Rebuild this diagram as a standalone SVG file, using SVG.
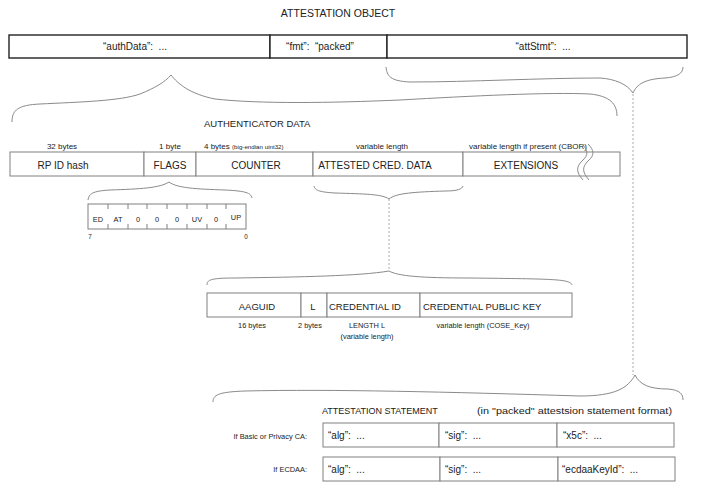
<svg xmlns="http://www.w3.org/2000/svg" width="702" height="503" viewBox="0 0 702 503">
<style>
text{font-family:"Liberation Sans",Arial,sans-serif;fill:#222}
.c{text-anchor:middle}
.r{text-anchor:end}
.t10{font-size:10px}
.t9{font-size:9.5px}
.t8{font-size:8px}
.t7{font-size:7.4px}
.t6{font-size:6.3px}
.topbox{fill:#fff;stroke:#222;stroke-width:1.4}
.box{fill:#fff;stroke:#808080;stroke-width:1}
.brace{fill:none;stroke:#8a8a8a;stroke-width:1}
.dash{fill:none;stroke:#a0a0a0;stroke-width:0.9;stroke-dasharray:2 2}
</style>
<rect width="702" height="503" fill="#fff"/>

<g id="title"><text class="c" x="338" y="17" font-size="10.5">ATTESTATION OBJECT</text></g>

<g id="attestation-object">
  <g id="authData"><rect class="topbox" x="9" y="35" width="261" height="23"/><text class="c t10" x="135" y="50">“authData”:&#160; ...</text></g>
  <g id="fmt"><rect class="topbox" x="270" y="35" width="117" height="23"/><text class="c t10" x="320" y="50">“fmt”:&#160; “packed”</text></g>
  <g id="attStmt"><rect class="topbox" x="387" y="35" width="300" height="23"/><text class="c t10" x="543" y="50">“attStmt”:&#160; ...</text></g>
</g>

<g id="authenticator-data">
  <text class="t9" x="204" y="127">AUTHENTICATOR DATA</text>
  <g id="rpidhash"><rect class="box" x="10" y="152" width="134" height="24"/><text class="c t10" x="63" y="168.5">RP ID hash</text><text class="c t8" x="62" y="149">32 bytes</text></g>
  <g id="flags"><rect class="box" x="144" y="152" width="52" height="24"/><text class="c t10" x="170" y="168.5">FLAGS</text><text class="c t8" x="170" y="149">1 byte</text></g>
  <g id="counter"><rect class="box" x="196" y="152" width="117" height="24"/><text class="c t10" x="256" y="168.5">COUNTER</text><text class="t8" x="204" y="149">4 bytes <tspan font-size="6.2">(big-endian uint32)</tspan></text></g>
  <g id="attested-cred-data"><rect class="box" x="313" y="152" width="150" height="24"/><text class="c t10" x="375" y="168.5">ATTESTED CRED. DATA</text><text class="c t8" x="382" y="149">variable length</text></g>
  <g id="extensions"><rect class="box" x="463" y="152" width="157" height="24"/><text class="c t10" x="526" y="168.5">EXTENSIONS</text><text class="c t8" x="528" y="149">variable length if present (CBOR)</text>
    <path class="brace" d="M582 144 C588 150 589 155 582 161 C576 167 576 172 583 180"/>
    <path class="brace" d="M588 144 C594 150 595 155 588 161 C582 167 582 172 589 180"/>
  </g>
</g>

<g id="flag-bits">
  <rect class="box" x="88" y="204" width="158" height="25"/>
  <path class="box" d="M108 204v5M128 204v5M147 204v5M167 204v5M187 204v5M207 204v5M226 204v5M108 229v-5M128 229v-5M147 229v-5M167 229v-5M187 229v-5M207 229v-5M226 229v-5"/>
  <text class="c t7" x="98" y="222">ED</text>
  <text class="c t7" x="118" y="222">AT</text>
  <text class="c t7" x="138" y="222">0</text>
  <text class="c t7" x="157" y="222">0</text>
  <text class="c t7" x="177" y="222">0</text>
  <text class="c t7" x="197" y="222">UV</text>
  <text class="c t7" x="216" y="222">0</text>
  <text class="c t7" x="236" y="220">UP</text>
  <text class="c t6" x="90" y="239">7</text>
  <text class="c t6" x="246" y="239">0</text>
</g>

<g id="credential-data">
  <g id="aaguid"><rect class="box" x="207" y="293" width="94" height="24"/><text class="c t9" x="257" y="310">AAGUID</text><text class="c t7" x="252" y="328">16 bytes</text></g>
  <g id="l"><rect class="box" x="301" y="293" width="26" height="24"/><text class="c t9" x="313" y="310">L</text><text class="c t7" x="310" y="328">2 bytes</text></g>
  <g id="credential-id"><rect class="box" x="327" y="293" width="93" height="24"/><text class="t9" x="329" y="310">CREDENTIAL ID</text><text class="c t7" x="367" y="328">LENGTH L</text><text class="c t7" x="367" y="339">(variable length)</text></g>
  <g id="credential-public-key"><rect class="box" x="420" y="293" width="152" height="24"/><text class="t9" x="423" y="310">CREDENTIAL PUBLIC KEY</text><text class="c t7" x="483" y="328">variable length (COSE_Key)</text></g>
</g>

<g id="attestation-statement">
  <text x="322" y="414" font-size="9">ATTESTATION STATEMENT</text>
  <text x="477" y="414" font-size="9.6" textLength="195" lengthAdjust="spacingAndGlyphs">(in "packed" attestsion statement format)</text>
  <g id="basic-row">
    <text class="r t7" x="307" y="438.5" font-size="7.8">If Basic or Privacy CA:</text>
    <rect class="box" x="323" y="423" width="116" height="24"/><text class="t10" x="328" y="439">“alg”:&#160; ...</text>
    <rect class="box" x="439" y="423" width="118" height="24"/><text class="t10" x="445" y="439">“sig”:&#160; ...</text>
    <rect class="box" x="557" y="423" width="117" height="24"/><text class="t10" x="563" y="439">“x5c”:&#160; ...</text>
  </g>
  <g id="ecdaa-row">
    <text class="r t7" x="307" y="472" font-size="7.8">If ECDAA:</text>
    <rect class="box" x="323" y="457" width="117" height="24"/><text class="t10" x="328" y="473">“alg”:&#160; ...</text>
    <rect class="box" x="440" y="457" width="118" height="24"/><text class="t10" x="445" y="473">“sig”:&#160; ...</text>
    <rect class="box" x="558" y="457" width="117" height="24"/><text class="t10" x="562" y="473">“ecdaaKeyId”:&#160; ...</text>
  </g>
</g>

<g id="connectors">
  <path class="brace" d="M12 122 C12 110 18 105 40 104 C80 102 120 101 140 94 C155 88 165 82 171 75 C178 84 190 94 215 99 C260 104 330 103 400 100 C470 96 550 92 590 94 C610 96 617 104 617 116"/>
  <path class="brace" d="M386 67 C387 76 390 81 410 82 C470 82 540 78 600 78 C615 79 627 84 633 93 C637 84 645 79 665 78 C678 77 683 73 683 67"/>
  <path class="dash" d="M633 94 V375"/>
  <path class="brace" d="M88 200 C89 194 92 191 110 190 C140 189 160 188 169 182 C177 188 195 189 225 190 C246 191 251 193 252 198"/>
  <path class="brace" d="M314 186 C315 190 318 192 335 193 C365 194 382 194 389 199 C396 193 415 192 445 191 C458 191 462 189 463 186"/>
  <path class="dash" d="M389 199 V271"/>
  <path class="brace" d="M207 285 C207 280 210 278 235 278 C300 277 360 276 389 271 C398 276 420 278 470 278 C555 279 570 279 572 285"/>
  <path class="brace" d="M213 402 C213 395 218 392 245 391 C330 389 450 392 580 396 C615 396 628 388 635 375 C640 385 650 389 668 389 C680 390 683 394 683 400"/>
</g>
</svg>
